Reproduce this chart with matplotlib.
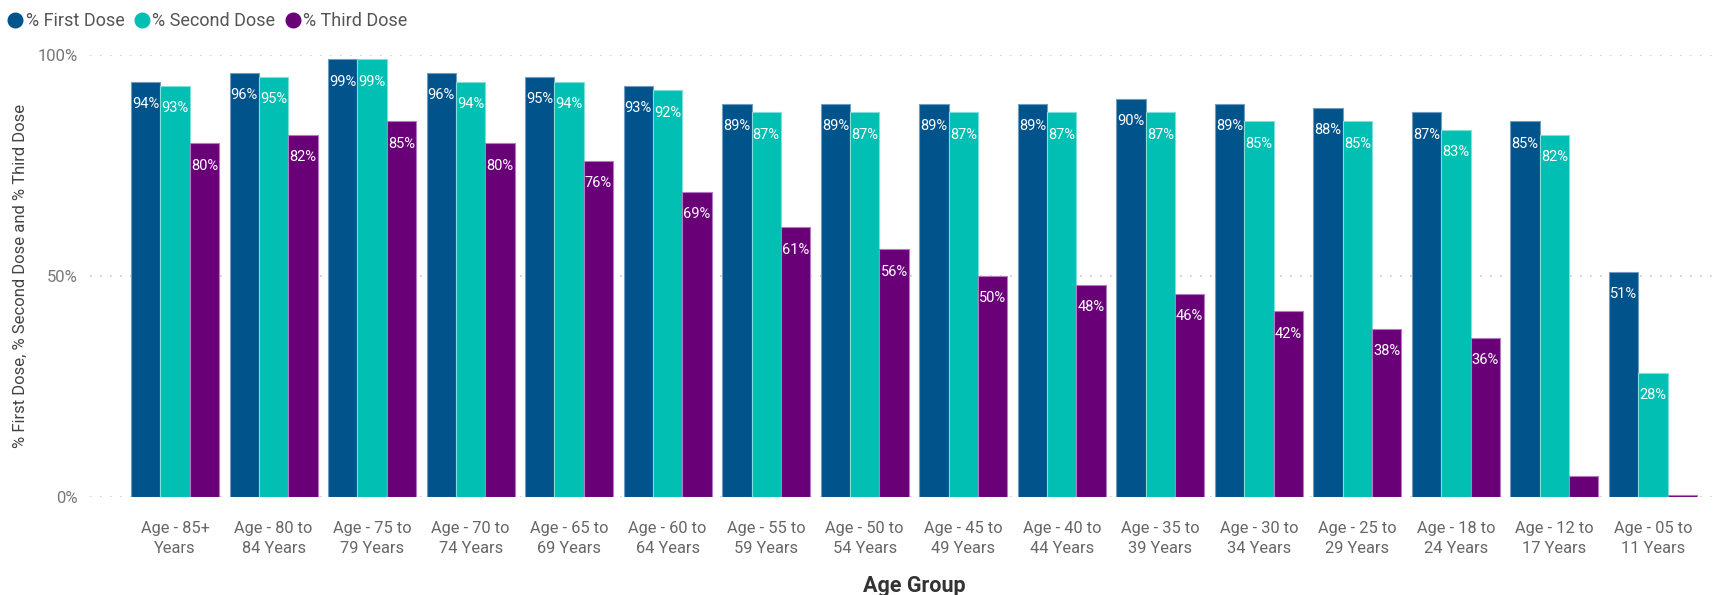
import matplotlib
matplotlib.use("Agg")
import matplotlib.pyplot as plt
import numpy as np
from matplotlib.lines import Line2D

categories = ["Age - 85+\nYears", "Age - 80 to\n84 Years", "Age - 75 to\n79 Years", "Age - 70 to\n74 Years",
              "Age - 65 to\n69 Years", "Age - 60 to\n64 Years", "Age - 55 to\n59 Years", "Age - 50 to\n54 Years",
              "Age - 45 to\n49 Years", "Age - 40 to\n44 Years", "Age - 35 to\n39 Years", "Age - 30 to\n34 Years",
              "Age - 25 to\n29 Years", "Age - 18 to\n24 Years", "Age - 12 to\n17 Years", "Age - 05 to\n11 Years"]
first_dose = [94, 96, 99, 96, 95, 93, 89, 89, 89, 89, 90, 89, 88, 87, 85, 51]
second_dose = [93, 95, 99, 94, 94, 92, 87, 87, 87, 87, 87, 85, 85, 83, 82, 28]
third_dose = [80, 82, 85, 80, 76, 69, 61, 56, 50, 48, 46, 42, 38, 36, 4.8, 0.4]
series_names = ["% First Dose", "% Second Dose", "% Third Dose"]
yticks = [0, 50, 100]
ytick_labels = ["0%", "50%", "100%"]

plt.rcParams['font.family'] = ["Roboto", "DejaVu Sans"]

colors = ["#01548B", "#01BFB3", "#6A0078"]
edges = ["#6f9cc0", "#7fe0d8", "#b27ac0"]

fig = plt.figure(figsize=(17.19, 5.95), dpi=100)
ax = fig.add_axes([90/1719, 1-497/595, 1-90/1719, (497-55)/595])

x = np.arange(len(categories))
w = 0.2975
for i, (vals, c, ec) in enumerate(zip([first_dose, second_dose, third_dose], colors, edges)):
    xs = x + (i-1)*w
    ax.bar(xs, vals, width=w, color=c, edgecolor=ec, linewidth=0.8, zorder=3)
    for xv, v in zip(xs, vals):
        if v >= 10:
            ax.annotate(f"{v:.0f}%", (xv, v), xytext=(0, -16), textcoords="offset points",
                        ha="center", va="center", color="white", fontsize=10.5, zorder=4)

ax.set_xlim((90-175)/98.5, 15 + (1719-1653)/98.5)
ax.set_ylim(0, 100)
ax.set_yticks(yticks)
ax.set_yticklabels(ytick_labels)
ax.set_xticks(x)
ax.set_xticklabels(categories, linespacing=1.45)
for s in ax.spines.values():
    s.set_visible(False)
ax.tick_params(axis="both", length=0, colors="#777777", labelsize=12)
ax.tick_params(axis="x", pad=17, labelcolor="#666666", labelsize=11.8)
ax.tick_params(axis="y", pad=9)
ax.yaxis.grid(True, linestyle=(0, (1, 5)), color="#c8c8c8", linewidth=1.2, zorder=0)
ax.set_axisbelow(True)

fig.text(20/1719, 1-276/595, "% First Dose, % Second Dose and % Third Dose", rotation=90,
         ha="center", va="center", fontsize=12, color="#444444")
fig.text(914/1719, 1-586/595, "Age Group", ha="center", va="center", fontsize=15.5,
         color="#333333", fontweight="bold")

handles = [Line2D([], [], marker="o", linestyle="", markersize=10.5, color=c) for c in colors]
fig.legend(handles, series_names, loc="center left", bbox_to_anchor=(4/1719, 1-21/595), ncol=3,
           frameon=False, handletextpad=0.0, columnspacing=0.35, fontsize=13, labelcolor="#555555",
           handlelength=1.2, borderpad=0, borderaxespad=0)

fig.savefig("out.png", dpi=100)
